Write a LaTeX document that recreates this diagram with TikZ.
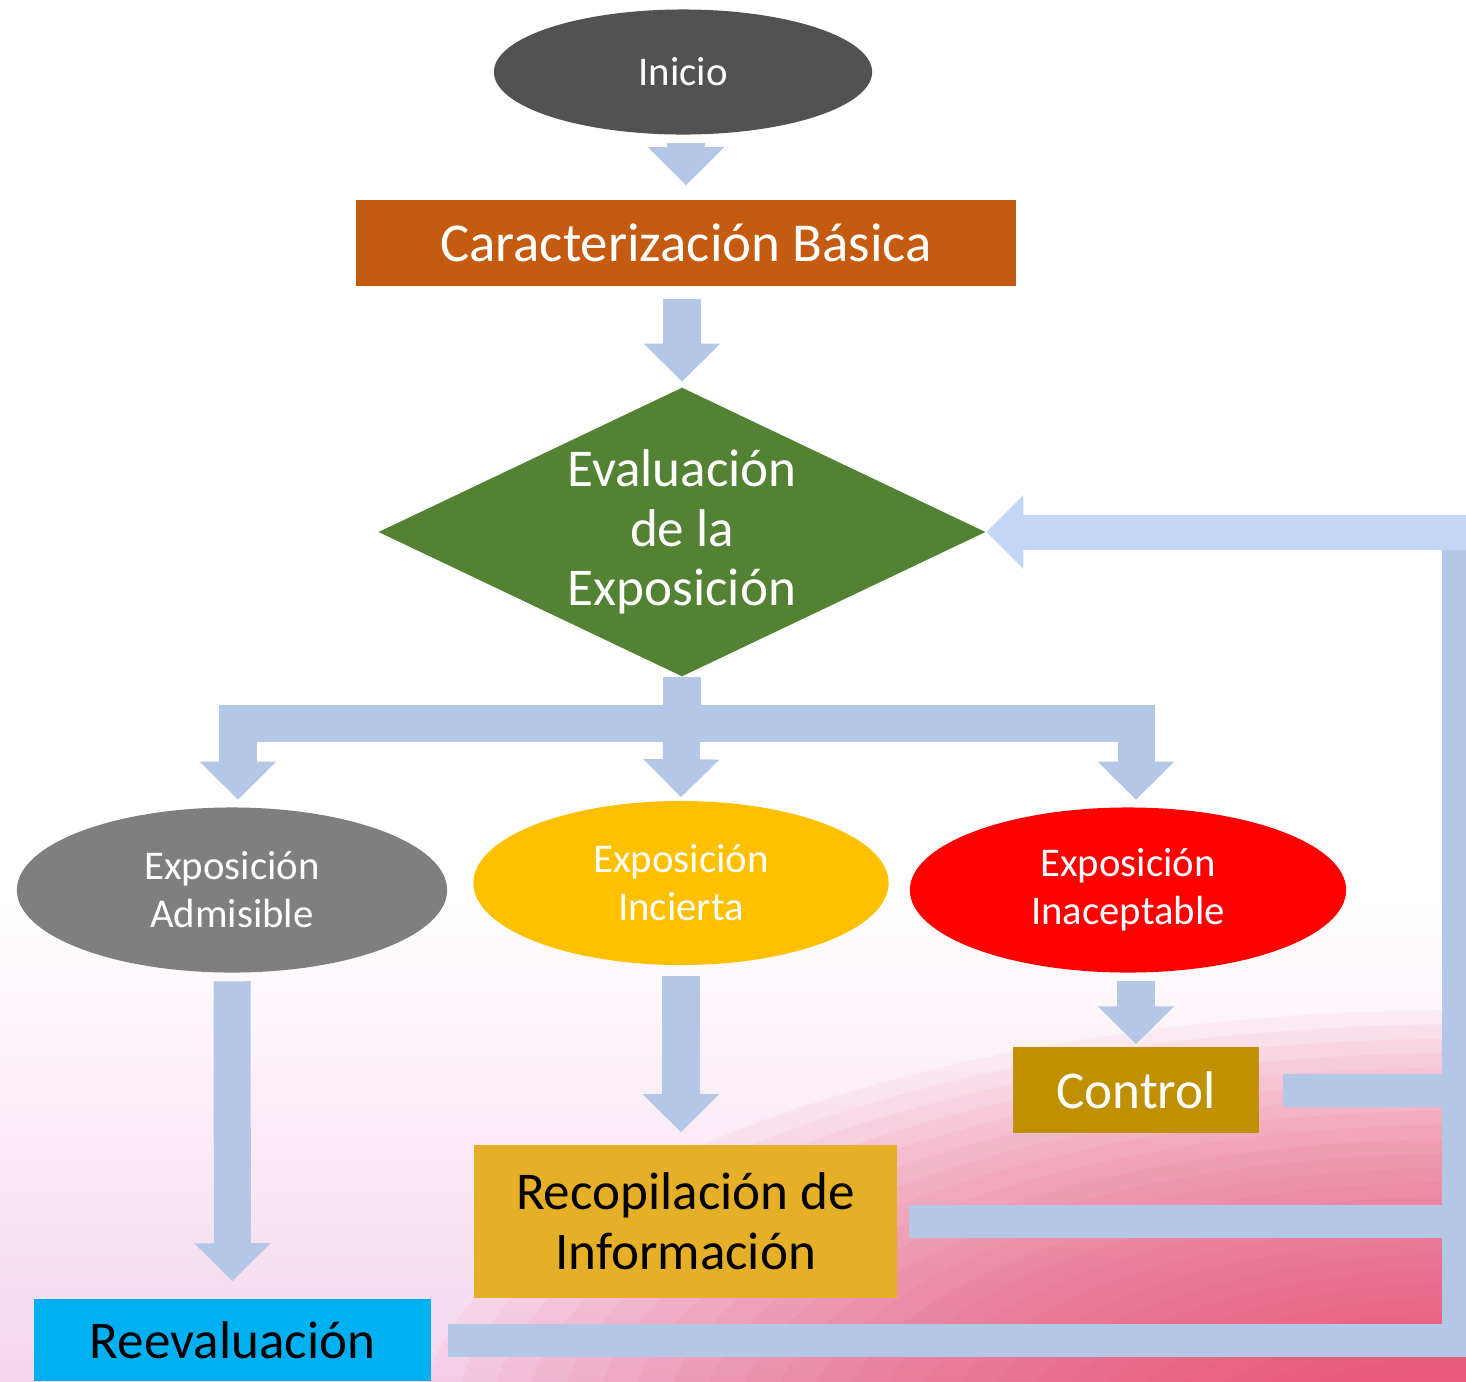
\documentclass[tikz,border=0pt]{standalone}
\usepackage{fontspec}
\setmainfont{Carlito}
\usepackage{tikz}
\usetikzlibrary{shapes.geometric, arrows.meta}
\definecolor{startgray}{HTML}{525252}
\definecolor{caracorange}{HTML}{C55A11}
\definecolor{evalgreen}{HTML}{548235}
\definecolor{admgray}{HTML}{7F7F7F}
\definecolor{incyellow}{HTML}{FFC000}
\definecolor{inacred}{HTML}{FF0000}
\definecolor{controlgold}{HTML}{BF9000}
\definecolor{recopgold}{HTML}{E5AF27}
\definecolor{reevalblue}{HTML}{00B0F0}
\definecolor{flowblue}{HTML}{B4C7E7}
\definecolor{flowlight}{HTML}{C3D6F3}
\definecolor{bglilac}{HTML}{F5D6EC}
\definecolor{bgpink}{HTML}{E8385F}
\newcommand{\smalltxt}{\fontsize{11.6}{13.7}\selectfont}
\newcommand{\bigtxt}{\fontsize{15.1}{17}\selectfont}
\tikzset{
  startnode/.style={ellipse, fill=startgray, text=white, minimum width=3.78cm, minimum height=1.25cm, inner sep=0pt, font=\smalltxt},
  block/.style={rectangle, text=white, inner sep=0pt, align=center, font=\bigtxt},
  decision/.style={diamond, aspect=2.1, fill=evalgreen, text=white, minimum width=6.07cm, minimum height=2.89cm, inner sep=0pt, align=center, font=\bigtxt},
  outcome/.style={ellipse, text=white, minimum height=1.65cm, inner sep=0pt, align=center, font=\smalltxt},
  flow/.style={draw=flowblue, line width=0.37cm, -{Triangle[length=0.38cm, width=0.74cm]}},
  flowline/.style={draw=flowblue, line width=0.33cm},
  flowtop/.style={draw=flowlight, line width=0.35cm, -{Triangle[length=0.37cm, width=0.72cm]}}
}

\begin{document}
\begin{tikzpicture}[x=0.01cm, y=-0.01cm]
  % background
  \useasboundingbox (0,0) rectangle (1466,1381);
  \clip (0,0) rectangle (1466,1381);
  \fill[white] (0,0) rectangle (1466,1381);
  \shade[top color=white, bottom color=bglilac] (0,900) rectangle (1466,1381);
  \foreach \k in {1,...,30}
    \fill[bgpink, opacity=0.05] (1466,1440) ellipse [x radius=\k/30*1050, y radius=\k/30*430];

  % nodes
  \node[startnode] (inicio) at (683,72) {Inicio};
  \node[block, fill=caracorange, minimum width=6.6cm, minimum height=0.86cm, font=\fontsize{15.6}{17}\selectfont] (carac) at (686,243) {Caracterización Básica};
  \node[decision] (eval) at (682,532) {Evaluación\\de la\\Exposición};
  \node[outcome, fill=admgray, minimum width=4.3cm] (adm) at (232,890) {Exposición\\Admisible};
  \node[outcome, fill=incyellow, minimum width=4.15cm, minimum height=1.64cm] (inc) at (681,883) {Exposición\\Incierta};
  \node[outcome, fill=inacred, minimum width=4.36cm] (inac) at (1128,890) {Exposición\\Inaceptable};
  \node[block, fill=controlgold, minimum width=2.46cm, minimum height=0.86cm] (control) at (1136,1090) {Control};
  \node[block, fill=recopgold, text=black, minimum width=4.23cm, minimum height=1.53cm] (recop) at (685.5,1221.5) {Recopilación de\\Información};
  \node[block, fill=reevalblue, text=black, minimum width=3.97cm, minimum height=0.82cm] (reeval) at (232.5,1340) {Reevaluación};
  \coordinate (ret) at (1458,532);

  % main flow
  \draw[flow, shorten <=0.08cm, shorten >=0.14cm] (carac.north |- inicio.south) -- (carac.north);
  \draw[flow, shorten <=0.12cm, shorten >=0.05cm] (eval.north |- carac.south) -- (eval.north);
  \draw[flow, shorten >=0.07cm] (eval.south) -- ++(0,46) -| ([xshift=0.06cm]adm.north);
  \draw[flow, shorten >=0.03cm] (eval.south) -- (inc.north);
  \draw[flow, shorten >=0.07cm] (eval.south) -- ++(0,46) -| ([xshift=0.08cm]inac.north);
  \draw[flow, shorten <=0.08cm, shorten >=0.17cm] (adm.south) -- (reeval.north);
  \draw[flow, shorten <=0.10cm, shorten >=0.12cm] (inc.south) -- (inc.south |- recop.north);
  \draw[flow, shorten <=0.08cm, shorten >=0.02cm] (inac.south -| control.north) -- (control.north);

  % return to evaluation
  \draw[flowline, shorten <=0.16cm] (reeval.east) -| (ret);
  \draw[flowline, shorten <=0.11cm] (recop.east) -- (recop.east -| ret);
  \draw[flowline, shorten <=0.23cm] (control.east) -- (control.east -| ret);
  \draw[flowtop] ([xshift=0.2cm]ret) -- (eval.east);
\end{tikzpicture}
\end{document}
